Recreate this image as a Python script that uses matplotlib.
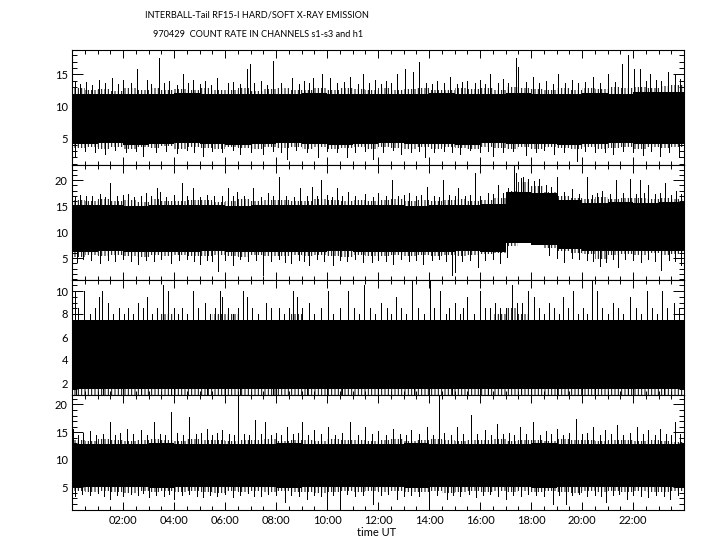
import numpy as np
import matplotlib.pyplot as plt
from matplotlib.ticker import MultipleLocator

plt.rcParams['font.family'] = ['Lato', 'DejaVu Sans']
plt.rcParams['hatch.linewidth'] = 0.72

# half-hour bins over the day (hours UT)
bin_edges = np.arange(0, 24.5, 0.5)

# channel s1: solid core of the band per hour, ragged outer edge per half hour
s1_core_top = [12.0, 12.0, 11.9, 12.0, 12.1, 12.0, 11.9, 12.0, 12.0, 12.1, 12.0, 11.9,
               12.0, 12.0, 12.1, 12.0, 11.9, 12.1, 12.0, 12.0, 12.1, 12.0, 12.2, 12.3]
s1_core_bot = [4.1, 4.2, 4.0, 4.1, 4.2, 4.1, 4.0, 4.1, 4.2, 4.1, 4.0, 4.1,
               4.2, 4.1, 4.1, 4.0, 4.2, 4.1, 4.1, 4.0, 4.1, 4.2, 4.1, 4.1]
s1_top = [12.8, 12.5, 12.7, 12.4, 12.9, 12.6, 12.8, 12.5, 12.7, 12.6, 12.9, 12.5,
          12.6, 12.8, 12.4, 12.7, 12.9, 12.6, 12.5, 12.8, 12.6, 12.9, 12.7, 12.5,
          12.8, 12.6, 12.7, 12.9, 12.5, 12.6, 12.8, 12.7, 12.9, 12.6, 13.0, 12.8,
          12.7, 12.5, 12.8, 12.6, 12.9, 12.7, 13.0, 12.8, 13.1, 12.9, 13.2, 13.4]
s1_bot = [3.5, 3.7, 3.4, 3.6, 3.3, 3.6, 3.5, 3.8, 3.4, 3.6, 3.5, 3.3,
          3.7, 3.5, 3.4, 3.6, 3.5, 3.7, 3.3, 3.6, 3.4, 3.5, 3.7, 3.4,
          3.6, 3.5, 3.3, 3.6, 3.4, 3.7, 3.5, 3.4, 3.6, 3.5, 3.3, 3.6,
          3.4, 3.7, 3.5, 3.3, 3.6, 3.4, 3.5, 3.7, 3.4, 3.6, 3.5, 3.6]
# single spikes sticking out of the band (hour, value)
s1_up = [(0.1, 14.0), (0.3, 13.5), (0.55, 13.8), (0.8, 13.4), (1.05, 14.2), (1.3, 13.6),
         (1.56, 14.4), (1.8, 13.5), (2.01, 14.2), (2.3, 13.7), (2.54, 15.9), (2.93, 14.2),
         (3.1, 13.5), (3.41, 17.5), (3.6, 13.6), (3.8, 13.9), (4.1, 13.4), (4.34, 15.0),
         (4.55, 13.6), (4.76, 14.1), (5.0, 13.5), (5.2, 13.9), (5.45, 13.4), (5.67, 14.4),
         (6.1, 13.6), (6.33, 13.8), (6.6, 13.5), (6.88, 15.9), (6.98, 16.6), (7.15, 13.6),
         (7.4, 14.0), (7.65, 13.4), (7.87, 17.1), (8.2, 13.7), (8.61, 14.4), (8.9, 13.5),
         (9.1, 13.9), (9.3, 13.6), (9.46, 14.4), (9.79, 15.0), (10.12, 14.4), (10.4, 13.6),
         (10.65, 13.8), (10.9, 14.6), (11.2, 13.5), (11.42, 15.0), (11.65, 13.6), (11.9, 14.1),
         (12.1, 13.5), (12.3, 13.9), (12.5, 13.6), (12.73, 15.0), (13.06, 15.9), (13.38, 15.4),
         (13.62, 16.9), (13.9, 13.6), (14.1, 13.5), (14.3, 14.0), (14.6, 13.7), (14.82, 14.6),
         (15.1, 13.5), (15.3, 13.8), (15.5, 13.9), (15.8, 13.6), (16.0, 14.2), (16.2, 13.5),
         (16.39, 15.0), (16.7, 13.7), (16.9, 14.3), (17.1, 13.6), (17.4, 17.5), (17.5, 16.2),
         (17.8, 13.8), (18.09, 14.6), (18.3, 13.6), (18.6, 14.0), (18.85, 13.5), (19.07, 15.1),
         (19.35, 13.7), (19.6, 14.2), (19.85, 13.6), (20.1, 13.8), (20.44, 14.6), (20.7, 13.6),
         (21.03, 15.0), (21.3, 13.8), (21.58, 16.6), (21.82, 18.0), (22.04, 15.9), (22.27, 15.9),
         (22.5, 14.0), (22.67, 15.0), (22.9, 14.2), (23.1, 13.9), (23.38, 15.4), (23.65, 15.0),
         (23.85, 14.3)]
s1_dn = [(0.12, 2.0), (0.5, 3.0), (0.9, 2.9), (1.3, 2.6), (1.7, 3.1), (2.1, 2.8), (2.5, 3.0),
         (2.8, 2.3), (3.3, 2.9), (3.7, 3.0), (4.1, 2.7), (4.5, 3.1), (4.8, 2.9), (5.15, 2.3),
         (5.5, 3.0), (5.9, 2.8), (6.3, 3.1), (6.6, 2.5), (7.0, 2.9), (7.5, 2.6), (7.9, 3.0),
         (8.2, 2.9), (8.42, 1.75), (8.8, 3.1), (9.2, 2.8), (9.66, 2.0), (10.0, 3.0), (10.4, 2.9),
         (10.77, 2.0), (11.1, 2.8), (11.5, 3.0), (11.82, 1.75), (12.2, 2.9), (12.6, 3.1),
         (12.9, 2.5), (13.3, 2.9), (13.6, 3.0), (13.84, 2.0), (14.2, 2.8), (14.6, 3.0),
         (14.9, 2.9), (15.2, 2.6), (15.6, 3.1), (16.0, 2.8), (16.3, 3.0), (16.52, 2.3),
         (16.9, 2.9), (17.3, 3.0), (17.8, 2.4), (18.2, 2.9), (18.5, 3.1), (18.9, 2.5),
         (19.3, 2.8), (19.79, 1.5), (20.1, 3.0), (20.5, 2.9), (20.9, 2.8), (21.2, 2.6),
         (21.6, 3.0), (22.0, 2.9), (22.4, 2.4), (22.7, 3.0), (23.06, 2.3), (23.4, 2.9),
         (23.8, 2.0)]

# channel s2
s2_core_top = [15.2, 15.3, 15.1, 15.2, 15.3, 15.2, 15.1, 15.2, 15.3, 15.2, 15.2, 15.3,
               15.2, 15.1, 15.3, 15.2, 15.4, 17.8, 17.5, 16.2, 15.6, 15.7, 15.6, 15.7]
s2_core_bot = [6.2, 6.3, 6.2, 6.1, 6.2, 6.3, 6.2, 6.2, 6.1, 6.2, 6.3, 6.2,
               6.2, 6.1, 6.2, 6.3, 6.2, 8.0, 7.6, 6.8, 6.3, 6.4, 6.3, 6.3]
s2_top = [16.2, 15.9, 16.3, 16.0, 16.1, 15.8, 16.4, 16.0, 15.9, 16.2, 16.1, 15.8,
          16.0, 16.3, 15.9, 16.1, 16.2, 15.9, 16.0, 16.3, 16.1, 15.9, 16.2, 16.0,
          16.1, 16.4, 16.0, 16.2, 15.9, 16.1, 16.3, 16.0, 16.2, 16.5, 18.0, 19.6,
          18.8, 17.8, 17.0, 16.6, 16.4, 16.7, 16.3, 16.5, 16.6, 16.4, 16.5, 16.3]
s2_bot = [5.3, 5.6, 5.4, 5.7, 5.5, 5.3, 5.6, 5.4, 5.7, 5.5, 5.4, 5.6,
          5.5, 5.3, 5.6, 5.4, 5.5, 5.7, 5.4, 5.6, 5.5, 5.3, 5.6, 5.5,
          5.4, 5.6, 5.5, 5.7, 5.4, 5.6, 5.5, 5.7, 5.8, 6.0, 7.4, 8.0,
          7.6, 7.0, 6.4, 6.0, 5.8, 4.9, 5.6, 5.8, 5.7, 5.9, 5.6, 5.8]
s2_up = [(0.1, 16.8), (0.3, 17.2), (0.55, 16.9), (0.8, 17.0), (1.1, 17.4), (1.3, 16.7),
         (1.49, 19.4), (1.75, 16.9), (2.0, 17.1), (2.2, 17.3), (2.45, 16.8), (2.7, 17.0),
         (2.9, 17.6), (3.1, 16.9), (3.32, 18.4), (3.45, 17.8), (3.7, 16.8), (4.0, 17.1),
         (4.3, 19.4), (4.5, 16.9), (4.76, 18.4), (5.0, 16.8), (5.3, 17.2), (5.55, 16.9),
         (5.9, 17.0), (6.13, 18.4), (6.3, 16.9), (6.46, 17.8), (6.75, 17.0), (7.11, 18.4),
         (7.4, 16.8), (7.7, 17.5), (7.9, 16.9), (8.13, 20.6), (8.4, 17.0), (8.7, 16.8),
         (8.94, 18.4), (9.2, 17.0), (9.4, 18.7), (9.6, 16.9), (9.76, 20.0), (10.0, 17.1),
         (10.2, 16.8), (10.38, 18.4), (10.6, 17.0), (10.84, 17.8), (11.1, 16.9), (11.5, 17.4),
         (11.8, 16.8), (12.0, 17.6), (12.3, 17.0), (12.54, 20.0), (12.8, 16.9), (13.0, 17.2),
         (13.2, 17.5), (13.5, 16.9), (13.7, 17.1), (13.91, 18.7), (14.2, 17.0), (14.4, 16.8),
         (14.54, 20.0), (14.8, 17.1), (15.0, 16.9), (15.15, 18.4), (15.4, 17.0), (15.6, 17.2),
         (15.8, 21.3), (16.0, 17.0), (16.3, 17.6), (16.5, 17.3), (16.72, 19.0), (16.9, 17.6),
         (17.1, 18.5), (17.33, 22.9), (17.43, 21.3), (17.6, 20.5), (17.7, 20.6), (17.9, 20.2),
         (18.1, 19.8), (18.3, 20.2), (18.6, 19.0), (18.8, 18.6), (19.0, 20.6), (19.3, 17.8),
         (19.6, 18.2), (19.9, 17.4), (20.18, 20.6), (20.4, 17.2), (20.6, 17.5), (20.8, 17.9),
         (21.1, 17.3), (21.35, 20.0), (21.6, 17.5), (21.88, 20.3), (22.1, 17.4), (22.27, 20.0),
         (22.45, 17.6), (22.6, 19.0), (22.85, 17.3), (23.05, 17.5), (23.25, 19.4), (23.5, 17.2),
         (23.7, 18.0), (23.9, 17.4)]
s2_dn = [(0.18, 4.2), (0.45, 4.8), (0.75, 4.6), (1.1, 4.0), (1.4, 4.7), (1.7, 4.5), (2.0, 4.8),
         (2.3, 4.4), (2.6, 3.8), (2.9, 4.7), (3.2, 4.5), (3.5, 4.8), (3.9, 4.1), (4.2, 4.6),
         (4.5, 4.8), (4.8, 4.4), (5.0, 3.9), (5.3, 4.7), (5.5, 4.5), (5.74, 2.6), (6.0, 4.6),
         (6.33, 3.6), (6.6, 4.8), (6.9, 4.4), (7.2, 4.7), (7.5, 1.8), (7.8, 4.5), (8.1, 4.8),
         (8.35, 4.3), (8.6, 4.0), (8.9, 4.7), (9.1, 4.5), (9.3, 3.7), (9.6, 4.8), (9.9, 4.4),
         (10.25, 3.6), (10.5, 4.7), (10.8, 4.5), (11.1, 4.8), (11.4, 4.3), (11.75, 4.2),
         (12.0, 4.7), (12.3, 4.5), (12.6, 3.9), (12.9, 4.8), (13.2, 4.4), (13.5, 4.7),
         (13.78, 3.9), (14.1, 4.6), (14.4, 4.8), (14.65, 4.4), (14.89, 1.8), (15.02, 2.3),
         (15.3, 4.5), (15.6, 4.7), (15.93, 3.3), (16.2, 4.6), (16.5, 4.8), (16.8, 4.0),
         (17.05, 5.2), (18.7, 5.6), (19.0, 5.0), (19.3, 4.3), (19.6, 5.1), (19.9, 4.9),
         (20.2, 4.7), (20.45, 4.5), (20.7, 3.5), (20.95, 4.2), (21.2, 4.8), (21.42, 3.3),
         (21.7, 4.9), (22.0, 4.6), (22.3, 4.2), (22.6, 4.8), (22.85, 4.5), (23.1, 2.8),
         (23.4, 4.7), (23.65, 4.4), (23.9, 3.6)]

# channel s3 (counts come in steps of 0.5)
s3_core_top = [7.5, 7.5, 7.5, 7.5, 7.5, 7.5, 7.5, 7.5, 7.5, 7.5, 7.5, 7.5,
               7.5, 7.5, 7.5, 7.5, 7.5, 7.5, 7.5, 7.5, 7.5, 7.5, 7.5, 7.5]
s3_core_bot = [1.5, 1.5, 1.5, 1.5, 1.5, 1.5, 1.5, 1.5, 1.5, 1.5, 1.5, 1.5,
               1.5, 1.5, 1.5, 1.5, 1.5, 1.5, 1.5, 1.5, 1.5, 1.5, 1.5, 1.5]
s3_top = [7.5, 7.5, 7.5, 7.5, 7.5, 7.5, 7.5, 8.0, 7.5, 7.5, 7.5, 8.0,
          8.0, 7.5, 7.5, 7.5, 7.5, 8.0, 7.5, 7.5, 7.5, 7.5, 7.5, 7.5,
          7.5, 7.5, 7.5, 7.5, 7.5, 7.5, 7.5, 7.5, 7.5, 8.0, 8.5, 8.0,
          7.5, 7.5, 7.5, 7.5, 7.5, 7.5, 7.5, 7.5, 7.5, 7.5, 7.5, 7.5]
s3_bot = [1.0, 1.0, 1.0, 1.0, 1.0, 1.0, 1.0, 1.0, 1.0, 1.0, 1.0, 1.0,
          1.0, 1.0, 1.0, 1.0, 1.0, 1.0, 1.0, 1.0, 1.0, 1.0, 1.0, 1.0,
          1.0, 1.0, 1.0, 1.0, 1.0, 1.0, 1.0, 1.0, 1.0, 1.0, 1.0, 1.0,
          1.0, 1.0, 1.0, 1.0, 1.0, 1.0, 1.0, 1.0, 1.0, 1.0, 1.0, 1.0]
s3_up = [(0.1, 10.0), (0.25, 8.5), (0.46, 10.0), (0.7, 8.0), (0.9, 8.5), (1.05, 9.5),
         (1.16, 10.0), (1.4, 9.0), (1.6, 8.0), (1.85, 8.5), (2.05, 8.0), (2.2, 8.5), (2.4, 8.0),
         (2.6, 9.0), (2.8, 8.5), (2.93, 9.5), (3.15, 8.0), (3.35, 8.5), (3.58, 10.5),
         (3.78, 10.0), (4.0, 8.5), (4.15, 8.0), (4.3, 8.5), (4.5, 8.0), (4.76, 10.0),
         (4.95, 8.5), (5.2, 9.0), (5.4, 8.0), (5.6, 8.5), (5.8, 10.0), (5.87, 9.5), (6.1, 8.5),
         (6.3, 8.0), (6.5, 8.5), (6.72, 10.0), (6.85, 9.5), (7.05, 8.5), (7.3, 8.0), (7.6, 9.0),
         (7.8, 8.5), (8.1, 8.5), (8.3, 8.0), (8.5, 8.5), (8.68, 10.0), (8.81, 9.5), (9.0, 8.5),
         (9.3, 9.0), (9.5, 8.0), (9.75, 8.5), (10.05, 10.0), (10.25, 8.0), (10.5, 8.5),
         (10.84, 10.0), (11.05, 8.5), (11.25, 8.0), (11.45, 10.5), (11.7, 8.5), (11.9, 8.0),
         (12.1, 9.0), (12.35, 8.5), (12.5, 8.0), (12.7, 9.5), (12.9, 8.5), (13.1, 8.0),
         (13.32, 11.0), (13.55, 8.5), (13.8, 8.0), (14.04, 11.0), (14.2, 8.5), (14.43, 10.0),
         (14.65, 8.0), (14.8, 8.5), (15.0, 9.0), (15.2, 8.0), (15.35, 8.5), (15.5, 9.5),
         (15.75, 8.0), (16.0, 10.0), (16.2, 8.5), (16.4, 8.5), (16.6, 9.0), (16.8, 8.5),
         (17.0, 8.5), (17.24, 10.5), (17.45, 9.0), (17.65, 9.0), (17.9, 10.0), (18.1, 9.5),
         (18.3, 8.5), (18.5, 8.0), (18.7, 9.0), (18.9, 8.5), (19.1, 8.0), (19.27, 9.5),
         (19.45, 8.5), (19.66, 10.0), (19.85, 8.0), (20.05, 8.5), (20.2, 8.0), (20.38, 11.0),
         (20.58, 10.0), (20.8, 8.5), (21.0, 8.0), (21.2, 9.0), (21.4, 8.5), (21.6, 8.0),
         (21.9, 9.5), (22.1, 8.5), (22.3, 8.0), (22.54, 10.0), (22.75, 8.5), (22.95, 8.0),
         (23.13, 10.0), (23.35, 8.5), (23.6, 9.0), (23.8, 8.5)]
s3_dn = [(0.15, 1.0), (1.2, 1.0), (2.7, 1.0), (3.9, 1.0), (5.3, 1.0), (6.6, 1.0),
         (7.9, 1.0), (9.2, 1.0), (10.6, 1.0), (12.0, 1.0), (13.4, 1.0), (14.9, 1.0),
         (16.3, 1.0), (17.6, 1.0), (19.0, 1.0), (20.5, 1.0), (21.8, 1.0), (23.2, 1.0)]

# channel h1
s4_core_top = [12.9, 12.8, 12.9, 13.0, 12.9, 12.8, 12.9, 12.9, 13.0, 12.9, 12.8, 12.9,
               12.9, 13.0, 12.9, 12.8, 12.9, 12.9, 13.0, 12.9, 12.9, 12.8, 12.9, 12.8]
s4_core_bot = [5.0, 5.1, 5.0, 4.9, 5.0, 5.1, 5.0, 5.0, 4.9, 5.0, 5.1, 5.0,
               5.0, 4.9, 5.0, 5.1, 5.0, 5.0, 4.9, 5.0, 5.1, 5.0, 5.0, 5.0]
s4_top = [13.6, 13.4, 13.7, 13.5, 13.3, 13.6, 13.8, 13.5, 13.4, 13.7, 13.5, 13.6,
          13.3, 13.6, 13.5, 13.8, 13.4, 13.6, 13.5, 13.3, 13.7, 13.5, 13.6, 13.4,
          13.5, 13.7, 13.4, 13.6, 13.8, 13.5, 13.3, 13.6, 13.5, 13.7, 13.4, 13.6,
          13.5, 13.3, 13.7, 13.5, 13.6, 13.4, 13.6, 13.5, 13.3, 13.6, 13.4, 13.2]
s4_bot = [4.3, 4.1, 4.4, 4.2, 4.0, 4.3, 4.2, 4.4, 4.1, 4.3, 4.2, 4.0,
          4.3, 4.1, 4.4, 4.2, 4.3, 4.1, 4.2, 3.9, 4.2, 4.3, 4.1, 4.4,
          4.2, 4.3, 4.1, 4.2, 4.4, 4.0, 4.2, 4.3, 4.1, 4.3, 4.2, 4.4,
          4.1, 4.3, 4.2, 4.0, 4.3, 4.2, 4.4, 4.1, 4.3, 4.2, 4.1, 4.3]
s4_up = [(0.04, 15.6), (0.25, 14.5), (0.45, 14.8), (0.7, 15.2), (0.95, 14.4), (1.2, 14.7),
         (1.49, 16.8), (1.7, 14.5), (1.9, 14.9), (2.14, 15.6), (2.4, 14.6), (2.7, 15.3),
         (2.95, 14.5), (3.22, 16.8), (3.45, 14.7), (3.65, 14.4), (3.87, 18.7), (4.1, 14.8),
         (4.35, 14.5), (4.6, 17.7), (4.85, 14.6), (5.05, 14.9), (5.28, 15.6), (5.5, 14.5),
         (5.7, 14.8), (5.9, 15.4), (6.15, 14.6), (6.35, 14.4), (6.52, 21.8), (6.75, 14.7),
         (6.95, 14.5), (7.18, 17.1), (7.4, 14.6), (7.57, 16.8), (7.8, 14.5), (8.0, 14.8),
         (8.2, 14.4), (8.42, 15.9), (8.65, 14.6), (8.85, 14.9), (9.0, 16.8), (9.25, 14.5),
         (9.5, 15.3), (9.75, 14.6), (10.05, 15.9), (10.3, 14.5), (10.6, 14.8), (10.9, 16.8),
         (11.2, 14.5), (11.49, 15.9), (11.75, 14.7), (12.0, 15.2), (12.3, 14.5), (12.6, 15.6),
         (12.85, 14.7), (13.1, 14.4), (13.3, 15.4), (13.6, 14.6), (13.91, 15.9), (14.15, 14.5),
         (14.39, 21.8), (14.6, 14.8), (14.85, 14.5), (15.09, 15.9), (15.35, 14.6), (15.63, 18.1),
         (15.9, 14.7), (16.2, 15.3), (16.45, 14.5), (16.65, 16.5), (16.9, 14.6), (17.15, 14.9),
         (17.35, 14.4), (17.57, 15.9), (17.8, 14.6), (18.09, 16.8), (18.35, 14.5), (18.6, 15.2),
         (18.8, 14.7), (19.0, 15.6), (19.25, 14.5), (19.5, 14.8), (19.76, 17.4), (20.0, 14.6),
         (20.2, 14.9), (20.44, 15.9), (20.7, 14.5), (20.9, 15.3), (21.15, 14.6), (21.36, 16.2),
         (21.6, 14.5), (21.9, 14.8), (22.14, 15.9), (22.4, 14.6), (22.6, 15.3), (22.85, 14.5),
         (23.06, 15.6), (23.3, 14.7), (23.5, 14.4), (23.65, 16.8), (23.85, 14.6)]
s4_dn = [(0.13, 3.5), (0.4, 3.8), (0.7, 3.6), (1.0, 3.9), (1.25, 3.5), (1.49, 2.9), (1.75, 3.7),
         (2.0, 3.5), (2.3, 3.8), (2.6, 3.6), (2.8, 3.9), (3.0, 3.2), (3.3, 3.7), (3.6, 3.5),
         (3.8, 3.8), (4.0, 2.9), (4.3, 3.6), (4.6, 3.8), (4.9, 3.5), (5.15, 3.2), (5.4, 3.7),
         (5.7, 3.5), (6.0, 3.8), (6.3, 3.2), (6.6, 3.6), (6.9, 3.9), (7.15, 3.5), (7.4, 3.4),
         (7.7, 3.8), (8.0, 3.6), (8.35, 2.3), (8.6, 3.7), (8.9, 3.5), (9.2, 2.9), (9.5, 3.7),
         (9.75, 3.5), (10.01, 1.1), (10.25, 3.6), (10.5, 1.2), (10.8, 3.8), (11.1, 3.5),
         (11.4, 3.7), (11.82, 2.0), (12.1, 3.6), (12.4, 3.8), (12.73, 2.9), (13.0, 3.5),
         (13.3, 3.7), (13.6, 3.4), (14.0, 1.0), (14.3, 3.6), (14.69, 2.9), (14.95, 3.7),
         (15.2, 3.5), (15.55, 3.8), (15.86, 3.2), (16.1, 3.6), (16.4, 3.8), (16.7, 3.5),
         (17.0, 2.9), (17.3, 3.7), (17.6, 3.5), (17.9, 3.8), (18.2, 3.6), (18.5, 3.4),
         (18.85, 2.0), (19.1, 3.7), (19.36, 2.0), (19.6, 3.6), (19.9, 3.8), (20.2, 3.5),
         (20.5, 3.7), (20.75, 3.4), (20.96, 2.3), (21.2, 3.6), (21.45, 3.8), (21.75, 2.9),
         (22.0, 3.6), (22.3, 3.5), (22.6, 3.3), (22.9, 3.7), (23.2, 3.5), (23.45, 2.9),
         (23.75, 3.6)]

panels = [
    (s1_core_top, s1_core_bot, s1_top, s1_bot, s1_up, s1_dn, (0.9, 18.9), [5, 10, 15], 1),
    (s2_core_top, s2_core_bot, s2_top, s2_bot, s2_up, s2_dn, (0.9, 23.0), [5, 10, 15, 20], 1),
    (s3_core_top, s3_core_bot, s3_top, s3_bot, s3_up, s3_dn, (1.0, 11.0), [2, 4, 6, 8, 10], 0.5),
    (s4_core_top, s4_core_bot, s4_top, s4_bot, s4_up, s4_dn, (1.0, 21.8), [5, 10, 15, 20], 1),
]

fig = plt.figure(figsize=(7.2, 5.5), dpi=100)
top_px = [49.5, 164.5, 279.5, 394.5]

for i, (ctop, cbot, top, bot, up, dn, ylim, yt, yminor) in enumerate(panels):
    ax = fig.add_axes([0.1, 1 - (top_px[i] + 115) / 550, 0.85, 115 / 550])
    # hourly core values spread onto the half-hour bins
    ctop = np.append(np.repeat(ctop, 2), ctop[-1])
    cbot = np.append(np.repeat(cbot, 2), cbot[-1])
    top = np.append(top, top[-1])
    bot = np.append(bot, bot[-1])
    ax.fill_between(bin_edges, cbot, ctop, step='post', color='black',
                    linewidth=0, antialiased=False)
    # ragged fringe of the band: dense comb of thin strokes
    for lo, hi in [(ctop, top), (bot, cbot)]:
        ax.fill_between(bin_edges, lo, hi, step='post', facecolor='none',
                        edgecolor='black', hatch='|||||', linewidth=0)
    mid = (np.mean(ctop) + np.mean(cbot)) / 2
    up_t, up_v = zip(*up)
    dn_t, dn_v = zip(*dn)
    ax.vlines(up_t, mid, up_v, color='black', linewidth=0.72, antialiased=False)
    ax.vlines(dn_t, dn_v, mid, color='black', linewidth=0.72, antialiased=False)

    ax.set_xlim(0, 24)
    ax.set_ylim(*ylim)
    ax.set_xticks(range(2, 24, 2))
    ax.set_xticklabels([f'{h:02d}:00' for h in range(2, 24, 2)])
    ax.xaxis.set_minor_locator(MultipleLocator(0.5))
    ax.set_yticks(yt)
    ax.yaxis.set_minor_locator(MultipleLocator(yminor))
    ax.tick_params(which='both', direction='in', top=True, right=True, width=0.7,
                   labelsize=8, labelbottom=(i == 3))
    ax.tick_params(axis='x', which='major', length=6, pad=4)
    ax.tick_params(axis='x', which='minor', length=3)
    ax.tick_params(axis='y', which='major', length=8, pad=3)
    ax.tick_params(axis='y', which='minor', length=3.6)
    for s in ax.spines.values():
        s.set_linewidth(0.8)

fig.text(377 / 720, 1 - 532 / 550, 'time UT', ha='center', va='center', fontsize=8)
fig.text(257 / 720, 1 - 15.5 / 550, 'INTERBALL-Tail RF15-I HARD/SOFT X-RAY EMISSION',
         ha='center', va='center', fontsize=6.6)
fig.text(258 / 720, 1 - 34.5 / 550, '970429  COUNT RATE IN CHANNELS s1-s3 and h1',
         ha='center', va='center', fontsize=6.6)

fig.savefig('out.png', dpi=100)
